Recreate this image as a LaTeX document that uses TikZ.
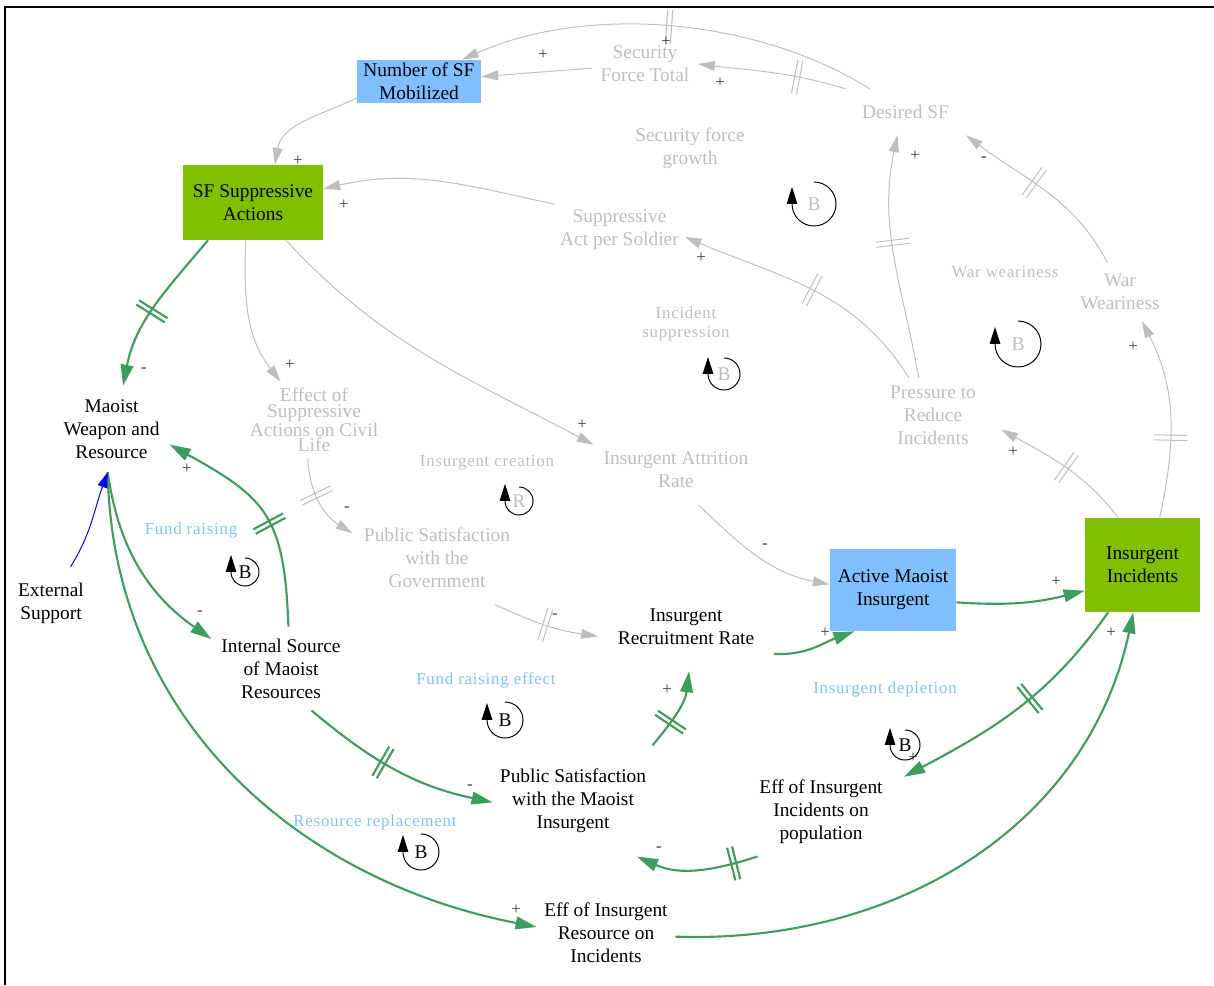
\documentclass[tikz,border=0pt]{standalone}
\usepackage{fontspec}
\setmainfont{Liberation Serif}
\newfontfamily\spacedfont[LetterSpace=4.5]{Liberation Serif}
\usetikzlibrary{arrows.meta,decorations.markings}
\definecolor{sfblue}{RGB}{128,191,255}
\definecolor{sfgreen}{RGB}{128,192,0}
\definecolor{ghostgray}{RGB}{190,190,190}
\definecolor{linkgreen}{RGB}{61,158,91}
\definecolor{signgray}{RGB}{60,60,60}
\tikzstyle{var} = [align=center, inner sep=2pt, font=\fontsize{13.8}{16.4}\selectfont]
\tikzstyle{ghost} = [var, text=ghostgray]
\tikzstyle{bluebox} = [var, rectangle, fill=sfblue]
\tikzstyle{greenbox} = [var, rectangle, fill=sfgreen]
\tikzstyle{looplabel} = [align=center, inner sep=1pt, font=\spacedfont\fontsize{12}{13.5}\selectfont]
\tikzstyle{loopletter} = [var, inner sep=0pt]
\tikzstyle{sign} = [inner sep=0pt, text=signgray, font=\fontsize{12}{12}\selectfont]
\tikzstyle{graylink} = [color=ghostgray, line width=0.7pt, -{Triangle[length=12pt,width=7pt]}]
\tikzstyle{greenlink} = [color=linkgreen, line width=1.5pt, -{Triangle[length=15pt,width=9pt]}]
\tikzstyle{bluelink} = [color=blue, line width=0.7pt, -{Triangle[length=11pt,width=7pt]}]
\tikzstyle{loopline} = [black, line width=0.7pt, -{Triangle[length=12pt,width=7.5pt]}]
\tikzset{delaymark/.style={postaction={decorate,decoration={markings,mark=at position #1 with {\draw[-] (-1.8pt,-12pt) -- (-1.8pt,12pt) (1.8pt,-12pt) -- (1.8pt,12pt);}}}}}
% loop symbol: name, x, y, radius, letter, colour
\newcommand{\fbloop}[6]{%
  \draw[loopline] (#2,-#3) ++(0,#4) arc[start angle=90,end angle=-180,radius=#4] -- ++(0,17);
  \node[loopletter,text=#6] (#1) at (#2,-#3) {#5};}

\begin{document}
\begin{tikzpicture}[x=0.025cm, y=0.025cm]
\useasboundingbox (0,0) rectangle (1214,-985);
\draw[line width=1.4pt] (5,-985) -- (5,-7) -- (1214,-7);

% variables
\node[bluebox, minimum width=3.1cm, minimum height=1.075cm] (NSF) at (419,-81.5) {Number of SF\\Mobilized};
\node[ghost, inner xsep=6pt] (SFT) at (645,-64) {Security\\Force Total};
\node[ghost, inner xsep=12pt, inner ysep=11.5pt] (DSF) at (905.5,-112) {Desired SF};
\node[greenbox, minimum width=3.5cm, minimum height=1.875cm] (SFSA) at (253,-202.5) {SF Suppressive\\Actions};
\node[ghost, inner sep=4pt] (SAPS) at (619.5,-230) {Suppressive\\Act per Soldier};
\node[ghost, inner xsep=3pt, inner ysep=7.7pt] (WW) at (1120,-292) {War\\Weariness};
\node[ghost, inner xsep=17.8pt, inner ysep=5.2pt] (PRI) at (933,-415) {Pressure to\\Reduce\\Incidents};
\node[var, inner xsep=7pt, inner ysep=9.5pt] (MWR) at (111.5,-429) {Maoist\\Weapon and\\Resource};
\node[ghost, inner xsep=3pt, inner ysep=4.5pt, font=\fontsize{13.8}{10.9}\selectfont] (ESA) at (314,-420) {Effect of\\Suppressive\\Actions on Civil\\Life};
\node[ghost, inner xsep=7pt, inner ysep=12pt] (IAR) at (676,-470) {Insurgent Attrition\\Rate};
\node[ghost, inner xsep=8pt, inner ysep=12pt] (PSG) at (437,-557.5) {Public Satisfaction\\with the\\Government};
\node[var, inner xsep=3pt, inner ysep=11.6pt] (ES) at (51,-603.5) {External\\Support};
\node[bluebox, minimum width=3.15cm, minimum height=2.05cm] (AMI) at (893,-590) {Active Maoist\\Insurgent};
\node[greenbox, minimum width=2.875cm, minimum height=2.35cm] (II) at (1142.5,-565) {Insurgent\\Incidents};
\node[var, inner xsep=7pt, inner ysep=8.4pt] (ISMR) at (281,-668.5) {Internal Source\\of Maoist\\Resources};
\node[var, inner xsep=13.9pt, inner ysep=18.4pt] (IRR) at (686,-627) {Insurgent\\Recruitment Rate};
\node[var, inner xsep=5pt, inner ysep=16.6pt] (PSM) at (573,-801) {Public Satisfaction\\with the Maoist\\Insurgent};
\node[var, inner xsep=15pt, inner ysep=8.7pt] (EIIP) at (821,-812) {Eff of Insurgent\\Incidents on\\population};
\node[var, inner xsep=5.3pt] (EIRI) at (606,-933) {Eff of Insurgent\\Resource on\\Incidents};

% loop names
\node[ghost] (lblSFG) at (690,-148) {Security force\\growth};
\node[looplabel, text=ghostgray] (lblIS) at (686,-324) {Incident\\suppression};
\node[looplabel, text=ghostgray] (lblWW) at (1005,-272) {War weariness};
\node[looplabel, text=ghostgray] (lblIC) at (487,-463) {Insurgent creation};
\node[looplabel, text=sfblue] (lblFR) at (191,-530) {Fund raising};
\node[looplabel, text=sfblue] (lblFRE) at (486,-680) {Fund raising effect};
\node[looplabel, text=sfblue] (lblID) at (885,-689) {Insurgent depletion};
\node[looplabel, text=sfblue] (lblRR) at (375,-822) {Resource replacement};

\fbloop{loopSFG}{814}{204}{22}{B}{ghostgray}
\fbloop{loopIS}{724}{374}{16}{B}{ghostgray}
\fbloop{loopWW}{1018}{344}{23}{B}{ghostgray}
\fbloop{loopIC}{519}{501}{14}{R}{ghostgray}
\fbloop{loopFR}{245}{572}{14}{B}{black}
\fbloop{loopFRE}{505}{720}{18}{B}{black}
\fbloop{loopID}{905}{745}{15}{B}{black}
\fbloop{loopRR}{421}{852}{18}{B}{black}

% grey links
\draw[graylink, delaymark=0.5] (DSF.147) to[out=148,in=24,looseness=0.85] (NSF.27);
\draw[graylink] (SFT) -- (NSF);
\draw[graylink, delaymark=0.33] (DSF.north west) to[out=163,in=-7] (SFT.east);
\draw[graylink] (NSF.195) to[out=205,in=80] (SFSA.60);
\draw[graylink] (SAPS.north west) to[out=168,in=13] (SFSA.11);
\draw[graylink, delaymark=0.49] (PRI.123) to[out=122,in=-23] (SAPS.-6);
\draw[graylink, delaymark=0.56] (PRI.111) to[out=100,in=258] (DSF.251);
\draw[graylink, delaymark=0.57] (WW.113) to[out=118,in=323] (DSF.south east);
\draw[graylink, delaymark=0.49] (II.117) to[out=128,in=331] (PRI.-12);
\draw[graylink, delaymark=0.4] (II.70) to[out=78,in=297] (WW.-53);
\draw[graylink] (SFSA.259) to[out=268,in=128] (ESA.131);
\draw[graylink] (SFSA.-49) to[out=-47,in=152] (IAR.163);
\draw[graylink, delaymark=0.42] (ESA.261) to[out=272,in=148] (PSG.164);
\draw[graylink] (IAR.-57) to[out=-44,in=169] (AMI.175);
\draw[graylink, delaymark=0.5] (PSG.-39) to[out=-25,in=172] (IRR.186);

% green links
\draw[greenlink, delaymark=0.53] (SFSA.220) to[out=230,in=79] (MWR.75);
\draw[greenlink, delaymark=0.45] (ISMR.80) to[out=92,in=331,looseness=1.3] (MWR.-15);
\draw[greenlink] (MWR.265) to[out=-82,in=145] (ISMR.157);
\draw[greenlink] (MWR.265) to[out=-89,in=169] (EIRI.175);
\draw[greenlink, delaymark=0.43] (ISMR.-54) to[out=-40,in=168] (PSM.181);
\draw[greenlink, delaymark=0.35] (PSM.35) to[out=50,in=263] (IRR.274);
\draw[greenlink] (IRR.-17) to[out=-3,in=200] (AMI.227);
\draw[greenlink] (AMI.-11) to[out=-4,in=194] (II.204);
\draw[greenlink, delaymark=0.44] (II.234) to[out=235,in=28] (EIIP.23);
\draw[greenlink, delaymark=0.2] (EIIP.215) to[out=198,in=336] (PSM.-41);
\draw[greenlink] (EIRI.-3) to[out=-2,in=258] (II.259);
\draw[bluelink] (ES.62) to[out=58,in=250] (MWR.265);

% polarities
\node[sign] (sgn1) at (543,-55) {+};
\node[sign] (sgn2) at (666,-42) {+};
\node[sign] (sgn3) at (720,-83) {+};
\node[sign] (sgn4) at (298,-161) {+};
\node[sign] (sgn5) at (344,-205) {+};
\node[sign] (sgn6) at (701,-258) {+};
\node[sign] (sgn7) at (915,-156) {+};
\node[sign] (sgn8) at (984,-159) {-};
\node[sign] (sgn9) at (1013,-452) {+};
\node[sign] (sgn10) at (1133,-347) {+};
\node[sign] (sgn11) at (290,-365) {+};
\node[sign] (sgn12) at (582,-425) {+};
\node[sign] (sgn13) at (347,-509) {-};
\node[sign] (sgn14) at (765,-546) {-};
\node[sign] (sgn15) at (555,-616) {-};
\node[sign] (sgn16) at (144,-370) {-};
\node[sign] (sgn17) at (187,-469) {+};
\node[sign] (sgn18) at (200,-613) {-};
\node[sign] (sgn19) at (516,-910) {+};
\node[sign] (sgn20) at (470,-787) {-};
\node[sign] (sgn21) at (667,-690) {+};
\node[sign] (sgn22) at (825,-633) {+};
\node[sign] (sgn23) at (1056,-582) {+};
\node[sign] (sgn24) at (913,-758) {+};
\node[sign] (sgn25) at (659,-849) {-};
\node[sign] (sgn26) at (1111,-633) {+};
\end{tikzpicture}
\end{document}
